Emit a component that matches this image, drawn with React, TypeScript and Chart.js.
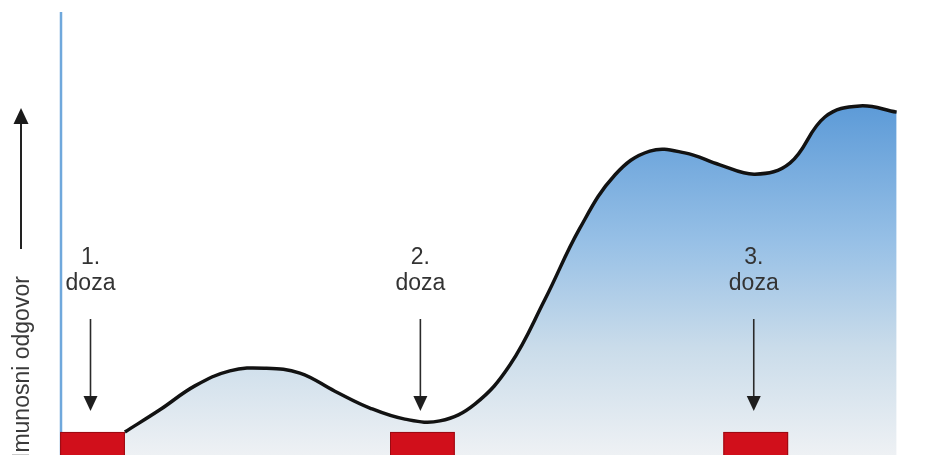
import React, { useEffect, useRef } from "react";
import { Chart, registerables } from "chart.js";

Chart.register(...registerables);

// time axis (arbitrary units 0..100) and immune response (0..100)
const responseTimes = [7.3, 11.3, 15.3, 19.3, 23.3, 27.3, 31.3, 35.3, 39.3, 43.3, 47.3, 51.3, 55.3, 59.3, 63.3, 67.3, 71.3, 75.3, 79.3, 83.3, 87.3, 91.3, 95.5];
const responseValues = [5.2, 10.2, 15.6, 19.0, 19.6, 18.5, 14.4, 10.6, 8.1, 7.7, 11.5, 20.3, 35.1, 51.2, 63.2, 68.6, 68.2, 65.5, 63.4, 65.9, 76.3, 78.8, 77.4];

const doseTimes = [3.6, 41.3, 79.4];
const doseLabels = ["1.", "2.", "3."];
const doseWord = "doza";
const doseWidth = 7.4;
const doseHeight = 5.2;
const yAxisLabel = "Imunosni odgovor";

const FONT = "23px 'Liberation Sans', Arial, sans-serif";

const annotations = {
  id: "annotations",
  beforeDatasetsDraw(chart: any) {
    const { ctx, chartArea } = chart;
    const xs = chart.scales.x;
    const ys = chart.scales.y;
    ctx.save();
    ctx.strokeStyle = "#6fa8dc";
    ctx.lineWidth = 2.5;
    ctx.beginPath();
    ctx.moveTo(xs.getPixelForValue(0), chartArea.top);
    ctx.lineTo(xs.getPixelForValue(0), ys.getPixelForValue(0));
    ctx.stroke();
    ctx.restore();
  },
  afterDatasetsDraw(chart: any) {
    const { ctx } = chart;
    const xs = chart.scales.x;
    const ys = chart.scales.y;
    ctx.save();
    doseTimes.forEach((t) => {
      const x0 = xs.getPixelForValue(t - doseWidth / 2);
      const x1 = xs.getPixelForValue(t + doseWidth / 2);
      const y0 = ys.getPixelForValue(doseHeight);
      const y1 = ys.getPixelForValue(0);
      ctx.fillStyle = "#d10f1b";
      ctx.fillRect(x0, y0, x1 - x0, y1 - y0 + 5);
      ctx.strokeStyle = "#9a0a12";
      ctx.lineWidth = 1;
      ctx.strokeRect(x0 + 0.5, y0 + 0.5, x1 - x0 - 1, y1 - y0 + 5);
    });
    ctx.font = FONT;
    ctx.textAlign = "center";
    ctx.textBaseline = "alphabetic";
    doseTimes.forEach((t, i) => {
      const x = xs.getPixelForValue(t) - 2;
      ctx.fillStyle = "#333333";
      ctx.fillText(doseLabels[i], x, 264);
      ctx.fillText(doseWord, x, 290);
      ctx.strokeStyle = "#2a2a2a";
      ctx.lineWidth = 1.6;
      ctx.beginPath();
      ctx.moveTo(x, 319);
      ctx.lineTo(x, 400);
      ctx.stroke();
      ctx.fillStyle = "#1e1e1e";
      ctx.beginPath();
      ctx.moveTo(x - 7, 396);
      ctx.lineTo(x + 7, 396);
      ctx.lineTo(x, 411);
      ctx.closePath();
      ctx.fill();
    });
    ctx.save();
    ctx.translate(28.5, 459);
    ctx.rotate(-Math.PI / 2);
    ctx.textAlign = "left";
    ctx.fillStyle = "#3a3a3a";
    ctx.fillText(yAxisLabel, 0, 0);
    ctx.restore();
    ctx.strokeStyle = "#222";
    ctx.lineWidth = 2;
    ctx.beginPath();
    ctx.moveTo(21, 249);
    ctx.lineTo(21, 120);
    ctx.stroke();
    ctx.fillStyle = "#1a1a1a";
    ctx.beginPath();
    ctx.moveTo(13.5, 124);
    ctx.lineTo(28.5, 124);
    ctx.lineTo(21, 108);
    ctx.closePath();
    ctx.fill();
    ctx.restore();
  },
};

export default function App() {
  const ref = useRef<HTMLCanvasElement>(null);
  useEffect(() => {
    if (!ref.current) return;
    const chart = new Chart(ref.current, {
      type: "line",
      data: {
        datasets: [
          {
            data: responseTimes.map((t, i) => ({ x: t, y: responseValues[i] })),
            borderColor: "#121212",
            borderWidth: 3.5,
            pointRadius: 0,
            tension: 0.4,
            fill: "origin",
            clip: false as any,
            backgroundColor: (c: any) => {
              const { ctx, chartArea } = c.chart;
              if (!chartArea) return "#9cc3e7";
              const g = ctx.createLinearGradient(0, 100, 0, chartArea.bottom);
              g.addColorStop(0, "#5a99d7");
              g.addColorStop(0.4, "#97c0e6");
              g.addColorStop(0.7, "#cadcea");
              g.addColorStop(1, "#eef1f4");
              return g;
            },
          },
        ],
      },
      options: {
        responsive: false,
        animation: false,
        devicePixelRatio: 1,
        layout: { padding: { left: 61, top: 12, right: 0, bottom: 0 } },
        plugins: { legend: { display: false }, tooltip: { enabled: false } },
        scales: {
          x: { type: "linear", min: 0, max: 100, display: false },
          y: { type: "linear", min: 0, max: 100, display: false },
        },
      },
      plugins: [annotations],
    });
    return () => chart.destroy();
  }, []);
  return (
    <div style={{ position: "fixed", left: 0, top: 0, width: 936, height: 455, background: "#ffffff" }}>
      <canvas ref={ref} width={936} height={455} style={{ display: "block" }} />
    </div>
  );
}
